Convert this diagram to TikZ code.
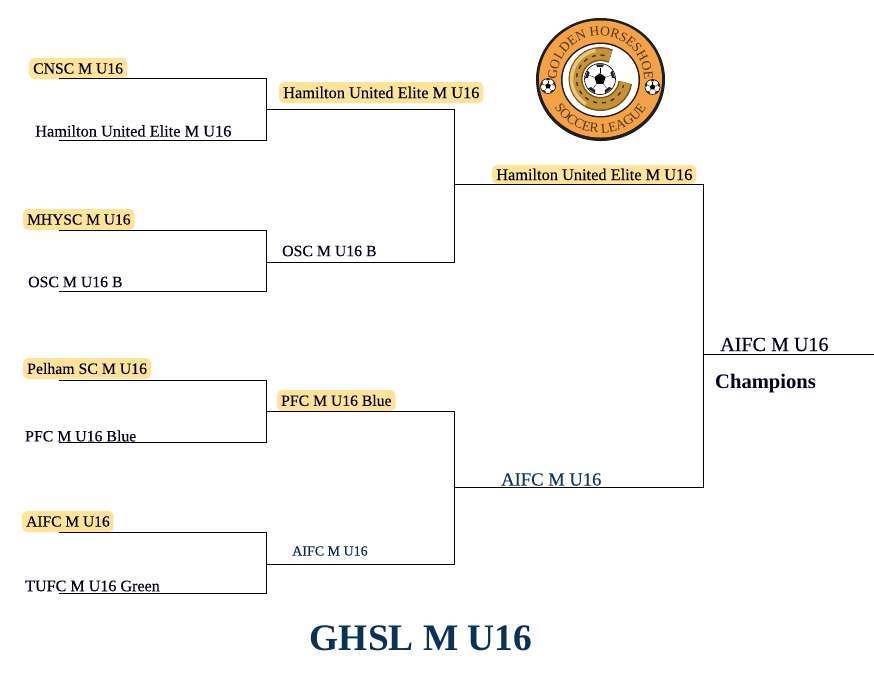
\documentclass[tikz,border=0pt]{standalone}
\usepackage{fontspec}
\setmainfont{Liberation Serif}
\newfontfamily\teamfont[FakeBold=0.12]{Liberation Serif}
\usetikzlibrary{decorations.text}
\definecolor{hl}{HTML}{FFE39B}
\definecolor{navy}{HTML}{0D3660}
\definecolor{logoorange}{HTML}{F5A145}
\definecolor{logotext}{HTML}{4A3A28}
\definecolor{golddark}{HTML}{7E5418}
\definecolor{goldmid}{HTML}{C4923A}
\definecolor{goldlight}{HTML}{E6C67E}
\newcommand{\tsz}[1]{\teamfont\fontsize{#1}{16}\selectfont}
\tikzset{
  team/.style={anchor=west,inner sep=0pt,font=\tsz{16.2},text=black!90!blue},
  win/.style={team,fill=hl,rounded corners=5pt,inner xsep=4pt,inner ysep=0pt,minimum height=21pt},
  bar/.style={line width=1pt,black,line join=miter},
  pics/ball/.style={code={
    \fill[white,draw=black,line width=0.6pt] (0,0) circle (1);
    \fill[black] (90:.38) -- (162:.38) -- (234:.38) -- (306:.38) -- (18:.38) -- cycle;
    \foreach \a in {90,162,234,306,18}{
      \draw[black,line width=0.3pt] (\a:.38) -- (\a:.72);
      \fill[black!85] (\a-13:.78) -- (\a+13:.78) -- (\a+16:.98) -- (\a-16:.98) -- cycle;
    }
  }}
}
\begin{document}
\begin{tikzpicture}[x=1pt,y=-1pt]
\useasboundingbox (0,0) rectangle (874,673);
% round 1 labels
\node[win,font=\tsz{15.7}]  (t1) at (29,68.5)  {CNSC M U16};
\node[team,font=\tsz{16.35}] (t2) at (35,131)   {Hamilton United Elite M U16};
\node[win,font=\tsz{15.5}]  (t3) at (23,219.5) {MHYSC M U16};
\node[team,font=\tsz{15.8}] (t4) at (28,282)   {OSC M U16 B};
\node[win,font=\tsz{15.8}]  (t5) at (23,368.5) {Pelham SC M U16};
\node[team,font=\tsz{15.8}] (t6) at (25,436)   {PFC M U16 Blue};
\node[win,font=\tsz{15.5}]  (t7) at (22,521.5) {AIFC M U16};
\node[team,font=\tsz{16.1}] (t8) at (25,586)   {TUFC M U16 Green};
% round 2 labels
\node[win,font=\tsz{16.35}]  (s1) at (279,92.5) {Hamilton United Elite M U16};
\node[team,font=\tsz{15.8}] (s2) at (282,251)  {OSC M U16 B};
\node[win,font=\tsz{15.7}]  (s3) at (277,400.5) {PFC M U16 Blue};
\node[team,font=\tsz{14},text=navy!70!black] (s4) at (292,551) {AIFC M U16};
% round 3 labels
\node[win,font=\tsz{16.35},minimum height=19pt]  (f1) at (492,174.5) {Hamilton United Elite M U16};
\node[team,font=\tsz{18.6},text=navy] (f2) at (501,479.5) {AIFC M U16};
% final
\node[team,font=\tsz{20.1}] (champ) at (720,344.5) {AIFC M U16};
\node[team,font=\bfseries\rmfamily\fontsize{20.6}{20}\selectfont] (cl) at (715,383.5) {Champions};
\node[anchor=center,inner sep=0pt,font=\bfseries\rmfamily\fontsize{37.4}{37}\selectfont,text=navy!90!black] (title) at (421,638) {GHSL M U16};
% bracket coordinates
\coordinate (a1) at (59,78);  \coordinate (a2) at (59,140);
\coordinate (a3) at (59,230); \coordinate (a4) at (59,291);
\coordinate (a5) at (59,380); \coordinate (a6) at (59,442);
\coordinate (a7) at (59,532); \coordinate (a8) at (59,593);
\coordinate (b1) at (266.6,109); \coordinate (b2) at (266.6,262);
\coordinate (b3) at (266.6,411); \coordinate (b4) at (266.6,564);
\coordinate (c1) at (454.6,184); \coordinate (c2) at (454.6,487);
\coordinate (d)  at (703,354); \coordinate (e)  at (874,354);
% brackets
\draw[bar] (a1) -| (b1 |- a2) -- (a2);
\draw[bar] (a3) -| (b1 |- a4) -- (a4);
\draw[bar] (a5) -| (b1 |- a6) -- (a6);
\draw[bar] (a7) -| (b1 |- a8) -- (a8);
\draw[bar] (b1) -| (c1 |- b2) -- (b2);
\draw[bar] (b3) -| (c1 |- b4) -- (b4);
\draw[bar] (c1) -| (d |- c2) -- (c2);
\draw[bar] (d) -- (e);
% logo
\begin{scope}[shift={(600.5,79)},x=1pt,y=1pt]
  \fill[black!88] (0,-0.5) ellipse (64.5 and 61.5);
  \fill[logoorange] (0,0) ellipse (61.5 and 58.5);
  \fill[black!88] (0,-1) ellipse (39.5 and 37.5);
  \fill[white] (0,-1) ellipse (38 and 36);
  % horseshoe
  \draw[line width=14pt,color=golddark] (66:25) arc (66:352:25);
  \draw[line width=11pt,color=goldmid] (66:25) arc (66:352:25);
  \draw[line width=3.5pt,color=goldlight] (100:29) arc (100:240:29);
  \draw[line width=1.4pt,dash pattern=on 4pt off 5pt,color=golddark!60!black] (80:24) arc (80:345:24);
  \pic[scale=15.5] at (-0.5,0) {ball};
  \pic[scale=7.5] at (-52.5,-7) {ball};
  \pic[scale=7.5] at (52,-8) {ball};
  \path[decorate,decoration={text along path,text align=center,text color=logotext,
     text={|\fontsize{13.5}{13.5}\selectfont|GOLDEN HORSESHOE}}]
     (176:43.5) arc (176:4:43.5);
  \path[decorate,decoration={text along path,text align=center,text color=logotext,
     text={|\fontsize{13.5}{13.5}\selectfont|SOCCER LEAGUE}}]
     (200:54) arc (200:340:54);
\end{scope}
\end{tikzpicture}
\end{document}
